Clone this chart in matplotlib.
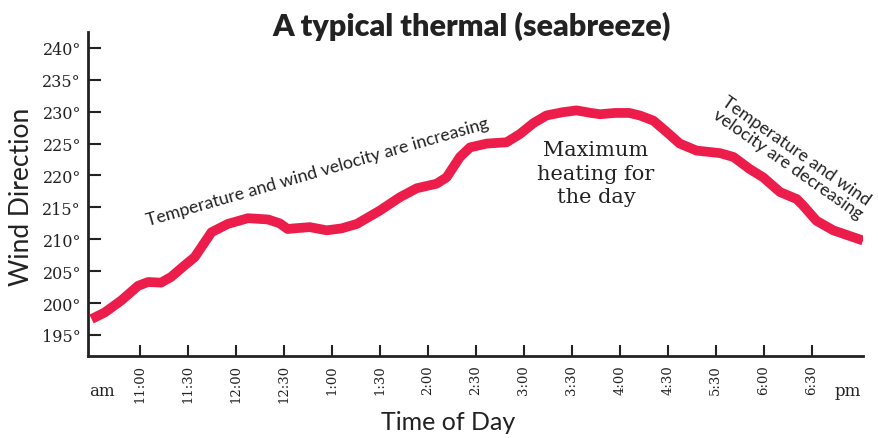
import matplotlib
matplotlib.use('Agg')
import matplotlib.pyplot as plt
from matplotlib import rcParams

rcParams['font.family'] = 'DejaVu Serif'

# ---- data (x in tick-slot units: 0 = 11:00, 1 = 11:30, ...) ----
tick_labels = ['11:00', '11:30', '12:00', '12:30', '1:00', '1:30', '2:00', '2:30',
               '3:00', '3:30', '4:00', '4:30', '5:30', '6:00', '6:30']
y_ticks = [195, 200, 205, 210, 215, 220, 225, 230, 235, 240]

time_x = [-1.01, -0.74, -0.39, -0.04, 0.17, 0.44, 0.65, 0.93, 1.14, 1.49,
          1.83, 2.25, 2.67, 2.91, 3.08, 3.2, 3.54, 3.89, 4.2, 4.52, 5.0,
          5.42, 5.77, 6.18, 6.39, 6.67, 6.88, 7.23, 7.64, 7.92, 8.2, 8.47,
          8.8, 9.1, 9.4, 9.59, 9.9, 10.2, 10.42, 10.7, 10.98, 11.25, 11.6,
          12.09, 12.37, 12.71, 12.99, 13.34, 13.69, 13.82, 14.1, 14.45, 15.07]
direction = [197.5, 198.5, 200.4, 202.7, 203.3, 203.2, 204.1, 205.9, 207.2, 211.1,
             212.4, 213.3, 213.1, 212.5, 211.6, 211.7, 211.9, 211.4, 211.7, 212.4,
             214.5, 216.6, 218.0, 218.7, 219.7, 222.9, 224.4, 225.0, 225.2, 226.5,
             228.2, 229.4, 229.9, 230.2, 229.8, 229.6, 229.8, 229.8, 229.4, 228.6,
             226.8, 225.0, 223.9, 223.5, 222.9, 221.0, 219.7, 217.4, 216.3, 215.3,
             212.9, 211.4, 209.8]

ink = '#222222'
red = '#EC1C4B'
sans = 'Lato'

fig = plt.figure(figsize=(8.79, 4.39), dpi=100)
ax = fig.add_axes([0.1001, 0.1868, 0.8817, 0.7382])

ax.plot(time_x, direction, color=red, lw=7, solid_joinstyle='round',
        solid_capstyle='butt', zorder=3)

ax.set_xlim(-1.084, 15.07)
ax.set_ylim(191.7, 242.5)

ax.set_xticks(range(len(tick_labels)))
ax.set_xticklabels(tick_labels, rotation=90, fontsize=9.5, color=ink)
ax.set_yticks(y_ticks)
ax.set_yticklabels([f'{v}\u00b0' for v in y_ticks], fontsize=11.5, color=ink)
ax.tick_params(axis='x', direction='in', length=8, width=1.5, color=ink, pad=6)
ax.tick_params(axis='y', direction='in', length=9.5, width=1.5, color=ink, pad=5)

for s in ['top', 'right']:
    ax.spines[s].set_visible(False)
for s in ['left', 'bottom']:
    ax.spines[s].set_linewidth(2)
    ax.spines[s].set_color(ink)

# am / pm end labels
trans = ax.get_xaxis_transform()
ax.text(-0.79, -0.105, 'am', transform=trans, ha='center', va='center',
        fontsize=12, color=ink)
ax.text(14.75, -0.105, 'pm', transform=trans, ha='center', va='center',
        fontsize=12, color=ink)

# titles and axis labels
fig.text(472 / 879, 1 - 26 / 439, 'A typical thermal (seabreeze)', family=sans,
         fontweight='heavy', fontsize=22, ha='center', va='center', color=ink)
fig.text(448 / 879, 1 - 423 / 439, 'Time of Day', family=sans, fontsize=18,
         ha='center', va='center', color=ink)
fig.text(22 / 879, 1 - 197 / 439, 'Wind Direction', family=sans, fontsize=19,
         rotation=90, ha='center', va='center', color=ink)

# annotations
fig.text(318 / 879, 1 - 172 / 439, 'Temperature and wind velocity are increasing',
         family=sans, fontsize=12.8, rotation=16, rotation_mode='anchor',
         ha='center', va='center', color=ink)
fig.text(596 / 879, 1 - 174 / 439, 'Maximum\nheating for\nthe day',
         fontsize=15, linespacing=1.3, ha='center', va='center', color=ink)
fig.text(792 / 879, 1 - 158 / 439, 'Temperature and wind\nvelocity are decreasing',
         family=sans, fontsize=12.8, rotation=-35, rotation_mode='anchor',
         ha='center', va='center', multialignment='left', linespacing=1.0,
         color=ink)

fig.savefig('out.png', dpi=100)
